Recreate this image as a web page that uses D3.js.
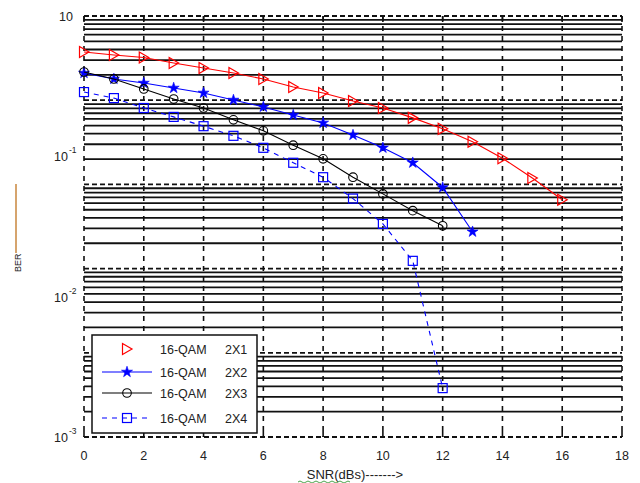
<!DOCTYPE html>
<html>
<head>
<meta charset="utf-8">
<script src="https://cdn.jsdelivr.net/npm/d3@7"></script>
<style>
  body { margin: 0; background: #fff; }
  svg { display: block; font-family: "Liberation Sans", Arial, sans-serif; }
</style>
</head>
<body>
<div id="chart"></div>
<script>
// SNR values (dB) for each curve
var snr1 = [0,1,2,3,4,5,6,7,8,9,10,11,12,13,14,15,16];
var snr2 = [0,1,2,3,4,5,6,7,8,9,10,11,12,13];
var snr3 = [0,1,2,3,4,5,6,7,8,9,10,11,12];
var snr4 = [0,1,2,3,4,5,6,7,8,9,10,11,12];

// BER
var ber2x1 = [0.554,0.527,0.506,0.462,0.426,0.392,0.356,0.312,0.283,0.248,0.221,0.188,0.157,0.127,0.097,0.070,0.049];
var ber2x2 = [0.392,0.356,0.333,0.307,0.283,0.252,0.225,0.197,0.173,0.142,0.115,0.090,0.060,0.029];
var ber2x3 = [0.399,0.356,0.302,0.256,0.221,0.182,0.152,0.120,0.096,0.071,0.054,0.041,0.032];
var ber2x4 = [0.287,0.260,0.221,0.191,0.164,0.140,0.115,0.090,0.071,0.050,0.033,0.018,0.00223];

var seriesNames = ["16-QAM  2X1","16-QAM  2X2","16-QAM  2X3","16-QAM  2X4"];
var xTickLabels = [0,2,4,6,8,10,12,14,16,18];
var yTickLabels = [["10",""],["10","-1"],["10","-2"],["10","-3"]];
var yTickValues = [1, 0.1, 0.01, 0.001];

var W = 640, H = 483;
var pLeft = 84, pRight = 622, pTop = 16, pBottom = 437;

var svg = d3.select("#chart").append("svg")
  .attr("width", W).attr("height", H);

var x = d3.scaleLinear().domain([0, 18]).range([pLeft, pRight]);
var y = d3.scaleLog().domain([0.001, 1]).range([pBottom, pTop]);
// the grid in the original is drawn on a different (5 decade) scale
var yGrid = d3.scaleLog().domain([1e-5, 1]).range([pBottom, pTop]);

var grid = svg.append("g");
var gridTicks = yGrid.ticks();
function isMajor(v){ return Math.abs(Math.log10(v) - Math.round(Math.log10(v))) < 1e-6; }

grid.selectAll("line.minor")
  .data(gridTicks.filter(function(v){ return !isMajor(v); }))
  .enter().append("line")
  .attr("x1", pLeft).attr("x2", pRight)
  .attr("y1", function(d){ return yGrid(d); })
  .attr("y2", function(d){ return yGrid(d); })
  .attr("stroke", "#111").attr("stroke-width", 1.8);

grid.selectAll("line.major")
  .data(gridTicks.filter(isMajor))
  .enter().append("line")
  .attr("x1", pLeft).attr("x2", pRight)
  .attr("y1", function(d){ return yGrid(d); })
  .attr("y2", function(d){ return yGrid(d); })
  .attr("stroke", "#111").attr("stroke-width", 1.8)
  .attr("stroke-dasharray", "5,3");

grid.selectAll("line.vert")
  .data(xTickLabels)
  .enter().append("line")
  .attr("x1", function(d){ return x(d); })
  .attr("x2", function(d){ return x(d); })
  .attr("y1", pTop).attr("y2", pBottom)
  .attr("stroke", "#111").attr("stroke-width", 1.6)
  .attr("stroke-dasharray", "5,5");

// small solid ticks at top and bottom
xTickLabels.forEach(function(d){
  grid.append("line").attr("x1", x(d)).attr("x2", x(d))
    .attr("y1", pTop).attr("y2", pTop + 6).attr("stroke", "#111").attr("stroke-width", 1.6);
  grid.append("line").attr("x1", x(d)).attr("x2", x(d))
    .attr("y1", pBottom - 6).attr("y2", pBottom).attr("stroke", "#111").attr("stroke-width", 1.6);
});

// x tick labels
svg.selectAll("text.xt")
  .data(xTickLabels)
  .enter().append("text")
  .attr("x", function(d){ return x(d); })
  .attr("y", 460)
  .attr("text-anchor", "middle")
  .attr("font-size", 12.5)
  .attr("fill", "#222")
  .text(function(d){ return d; });

// y tick labels
yTickValues.forEach(function(v, i){
  var hasExp = !!yTickLabels[i][1];
  svg.append("text")
    .attr("x", hasExp ? 68 : 73).attr("y", y(v) + 5)
    .attr("text-anchor", "end")
    .attr("font-size", 12.5)
    .attr("fill", "#222")
    .text(yTickLabels[i][0]);
  if (hasExp) {
    svg.append("text")
      .attr("x", 69).attr("y", y(v) - 3)
      .attr("font-size", 8.5).attr("fill", "#222")
      .text(yTickLabels[i][1]);
  }
});

// axis labels
svg.append("text")
  .attr("x", 355).attr("y", 479)
  .attr("text-anchor", "middle")
  .attr("font-size", 13).attr("fill", "#222")
  .text("SNR(dBs)------->");
svg.append("path")
  .attr("d", "M298,482 q2,-2 4,0 t4,0 t4,0 t4,0 t4,0 t4,0 t4,0 t4,0 t4,0 t4,0 t4,0 t4,0 t4,0")
  .attr("fill", "none").attr("stroke", "#3a9a3a").attr("stroke-width", 0.9);

svg.append("text")
  .attr("transform", "translate(21,272) rotate(-90)")
  .attr("font-size", 9).attr("fill", "#222")
  .text("BER");
svg.append("line")
  .attr("x1", 16).attr("x2", 16).attr("y1", 184).attr("y2", 253)
  .attr("stroke", "#c8863c").attr("stroke-width", 1.5);

// data series
var series = [
  {name: seriesNames[0], xs: snr1, ys: ber2x1, color: "#ff0000", dash: null, marker: "tri"},
  {name: seriesNames[1], xs: snr2, ys: ber2x2, color: "#0000ff", dash: null, marker: "star"},
  {name: seriesNames[2], xs: snr3, ys: ber2x3, color: "#000000", dash: null, marker: "circle"},
  {name: seriesNames[3], xs: snr4, ys: ber2x4, color: "#0000ff", dash: "5,5", marker: "square"}
];

var line = d3.line()
  .x(function(d){ return x(d[0]); })
  .y(function(d){ return y(d[1]); });

function drawMarker(g, kind, cx, cy, color) {
  if (kind === "tri") {
    g.append("path")
      .attr("d", "M" + (cx - 4.5) + "," + (cy - 5.5) + "L" + (cx + 5) + "," + cy + "L" + (cx - 4.5) + "," + (cy + 5.5) + "Z")
      .attr("fill", "none").attr("stroke", color).attr("stroke-width", 1.2);
  } else if (kind === "star") {
    g.append("path")
      .attr("d", d3.symbol().type(d3.symbolStar).size(38)())
      .attr("transform", "translate(" + cx + "," + cy + ")")
      .attr("fill", color).attr("stroke", color).attr("stroke-width", 0.6);
  } else if (kind === "circle") {
    g.append("circle").attr("cx", cx).attr("cy", cy).attr("r", 4.3)
      .attr("fill", "none").attr("stroke", color).attr("stroke-width", 1.1);
  } else {
    g.append("rect").attr("x", cx - 4.5).attr("y", cy - 4.5)
      .attr("width", 9).attr("height", 9)
      .attr("fill", "none").attr("stroke", color).attr("stroke-width", 1.2);
  }
}

series.forEach(function(s){
  var pts = s.xs.map(function(v, i){ return [v, s.ys[i]]; });
  var g = svg.append("g");
  g.append("path")
    .attr("d", line(pts))
    .attr("fill", "none")
    .attr("stroke", s.color)
    .attr("stroke-width", 1.1)
    .attr("stroke-dasharray", s.dash);
  pts.forEach(function(p){
    drawMarker(g, s.marker, x(p[0]), y(p[1]), s.color);
  });
});

// legend
var lg = svg.append("g");
lg.append("rect")
  .attr("x", 92).attr("y", 335).attr("width", 165).attr("height", 98)
  .attr("fill", "#fff").attr("stroke", "#111").attr("stroke-width", 1.5);
var legendY = [349, 372, 393, 418];
series.forEach(function(s, i){
  var ly = legendY[i];
  if (i > 0) {
    lg.append("line")
      .attr("x1", 102).attr("x2", 152).attr("y1", ly).attr("y2", ly)
      .attr("stroke", s.color).attr("stroke-width", 1.2)
      .attr("stroke-dasharray", s.dash);
  }
  drawMarker(lg, s.marker, 127, ly, s.color);
  var parts = s.name.split("  ");
  lg.append("text").attr("x", 160).attr("y", ly + 4.5)
    .attr("font-size", 12.5).attr("fill", "#222").text(parts[0]);
  lg.append("text").attr("x", 225).attr("y", ly + 4.5)
    .attr("font-size", 12.5).attr("fill", "#222").text(parts[1]);
});
</script>
</body>
</html>
